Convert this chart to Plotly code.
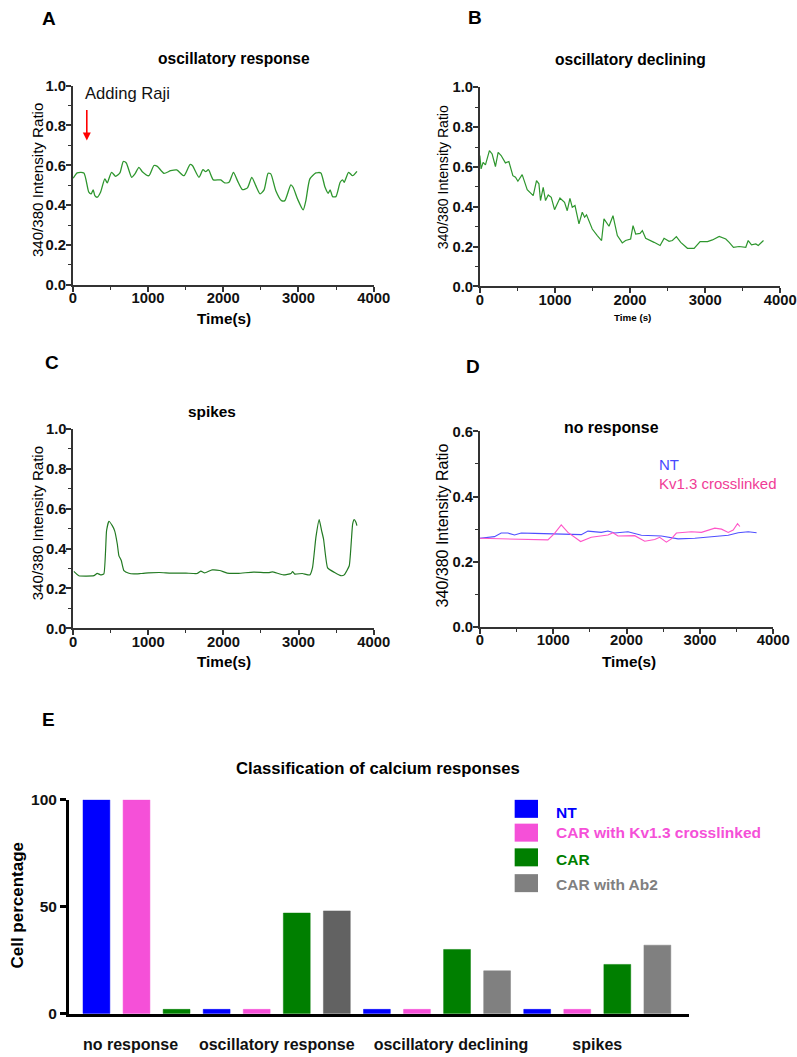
import plotly.graph_objects as go

# The snapshot maps page pixels to picture pixels as: pic = S * page + OFF.
# Positions below are given in picture pixels and converted back to page pixels.
SX, OX = 0.974, 3.6
SY, OY = 0.984, 8.4
W, H = 815, 1066

# ---------------- data ----------------
A_time = [5, 59, 147, 213, 245, 271, 293, 325, 369, 426, 458, 515, 569, 626, 671, 711, 782, 826, 879, 924,
          1012, 1079, 1124, 1212, 1301, 1381, 1478, 1558, 1590, 1678, 1731, 1767, 1803, 1869, 1967, 2020,
          2077, 2136, 2189, 2256, 2322, 2380, 2433, 2490, 2543, 2597, 2632, 2699, 2775, 2819, 2899, 2929,
          2988, 3063, 3099, 3152, 3232, 3298, 3351, 3396, 3422, 3454, 3498, 3555, 3587, 3608, 3667, 3720, 3778]
A_ratio = [0.535, 0.562, 0.562, 0.465, 0.457, 0.477, 0.448, 0.44, 0.465, 0.532, 0.512, 0.565, 0.545, 0.562,
           0.619, 0.612, 0.54, 0.557, 0.59, 0.568, 0.548, 0.599, 0.595, 0.56, 0.573, 0.577, 0.548, 0.604,
           0.599, 0.54, 0.578, 0.568, 0.578, 0.527, 0.527, 0.512, 0.515, 0.565, 0.523, 0.478, 0.487, 0.54,
           0.498, 0.457, 0.477, 0.56, 0.557, 0.473, 0.423, 0.423, 0.502, 0.49, 0.431, 0.376, 0.423, 0.532,
           0.562, 0.562, 0.493, 0.46, 0.477, 0.443, 0.443, 0.515, 0.527, 0.515, 0.565, 0.548, 0.57]

B_time = [0, 17, 44, 75, 128, 164, 208, 244, 284, 341, 387, 440, 475, 507, 564, 631, 711, 755, 787, 808,
          844, 875, 911, 951, 995, 1067, 1128, 1164, 1200, 1231, 1267, 1320, 1364, 1395, 1421, 1497, 1564,
          1621, 1653, 1720, 1773, 1831, 1897, 1941, 2008, 2040, 2075, 2133, 2164, 2208, 2320, 2400, 2453,
          2520, 2564, 2617, 2675, 2764, 2853, 2933, 3031, 3097, 3187, 3275, 3320, 3377, 3453, 3541, 3573,
          3617, 3675, 3707, 3777]
B_ratio = [0.657, 0.59, 0.623, 0.61, 0.682, 0.665, 0.602, 0.673, 0.657, 0.62, 0.627, 0.556, 0.548, 0.528,
           0.561, 0.486, 0.456, 0.531, 0.515, 0.431, 0.497, 0.431, 0.459, 0.447, 0.385, 0.444, 0.422, 0.38,
           0.442, 0.397, 0.406, 0.314, 0.372, 0.347, 0.359, 0.288, 0.255, 0.23, 0.339, 0.302, 0.355, 0.255,
           0.218, 0.23, 0.238, 0.305, 0.263, 0.266, 0.28, 0.241, 0.221, 0.205, 0.241, 0.226, 0.23, 0.25,
           0.221, 0.191, 0.191, 0.225, 0.225, 0.233, 0.251, 0.238, 0.221, 0.196, 0.2, 0.196, 0.23, 0.208,
           0.213, 0.205, 0.23]

C_time = [8, 75, 275, 320, 364, 408, 444, 475, 520, 551, 587, 608, 640, 675, 741, 808, 900, 1000, 1150,
          1300, 1500, 1650, 1700, 1750, 1850, 1950, 2050, 2200, 2400, 2600, 2650, 2800, 2900, 2920, 2950,
          3050, 3150, 3187, 3231, 3275, 3307, 3333, 3387, 3475, 3564, 3608, 3675, 3720, 3741, 3764, 3777]
C_ratio = [0.286, 0.264, 0.264, 0.276, 0.268, 0.273, 0.49, 0.537, 0.515, 0.49, 0.423, 0.365, 0.34, 0.289,
           0.276, 0.273, 0.275, 0.278, 0.28, 0.277, 0.277, 0.275, 0.287, 0.278, 0.293, 0.29, 0.277, 0.276,
           0.282, 0.279, 0.283, 0.268, 0.275, 0.285, 0.272, 0.275, 0.268, 0.306, 0.456, 0.545, 0.49, 0.448,
           0.303, 0.281, 0.264, 0.268, 0.314, 0.523, 0.545, 0.532, 0.515]

D_nt_time = [0, 200, 291, 382, 473, 564, 746, 974, 1201, 1383, 1474, 1656, 1747, 1838, 2020, 2202, 2475,
             2703, 2931, 3158, 3386, 3522, 3659, 3773]
D_nt_ratio = [0.272, 0.277, 0.288, 0.288, 0.282, 0.288, 0.287, 0.285, 0.285, 0.283, 0.294, 0.29, 0.294,
              0.288, 0.292, 0.281, 0.279, 0.27, 0.272, 0.277, 0.281, 0.289, 0.292, 0.289]
D_kv_time = [0, 291, 519, 746, 928, 1019, 1110, 1201, 1374, 1519, 1656, 1747, 1815, 1883, 2111, 2248, 2384,
             2452, 2543, 2611, 2680, 2885, 3021, 3203, 3295, 3386, 3454, 3513, 3545]
D_kv_ratio = [0.272, 0.27, 0.268, 0.268, 0.267, 0.287, 0.313, 0.29, 0.262, 0.275, 0.28, 0.282, 0.289, 0.279,
              0.28, 0.263, 0.268, 0.275, 0.26, 0.27, 0.288, 0.292, 0.29, 0.303, 0.3, 0.29, 0.297, 0.317, 0.308]

E_groups = ["no response", "oscillatory response", "oscillatory declining", "spikes"]
E_series = ["NT", "CAR with Kv1.3 crosslinked", "CAR", "CAR with Ab2"]
E_NT = [100, 2, 2, 2]
E_KV = [100, 2, 2, 2]
E_CAR = [2, 47, 30, 23]
E_AB2 = [None, 48, 20, 32]
E_colors = ["#0000FF", "#F550D8", "#007F00", "#808080"]
E_ab2_dark = "#626262"

# layout tweak: label offsets (in bar slots) relative to group centres
E_label_shift = [-0.15, 0.0, 0.35, 0.0]

FONT = "Liberation Sans, Arial, sans-serif"


def px(x):
    """picture pixel x -> paper fraction"""
    return ((x - OX) / SX) / W


def py(y):
    """picture pixel y -> paper fraction"""
    return 1 - ((y - OY) / SY) / H


fig = go.Figure()

# ---------------- line panels ----------------
green = "#2E962E"
fig.add_trace(go.Scatter(x=A_time, y=A_ratio, mode="lines", xaxis="x", yaxis="y",
                         line=dict(color=green, width=1.3, shape="spline", smoothing=0.6)))
fig.add_trace(go.Scatter(x=B_time, y=B_ratio, mode="lines", xaxis="x2", yaxis="y2",
                         line=dict(color=green, width=1.2)))
fig.add_trace(go.Scatter(x=C_time, y=C_ratio, mode="lines", xaxis="x3", yaxis="y3",
                         line=dict(color="#237A23", width=1.2, shape="spline", smoothing=0.4)))
fig.add_trace(go.Scatter(x=D_nt_time, y=D_nt_ratio, mode="lines", xaxis="x4", yaxis="y4",
                         line=dict(color="#4F4FFF", width=1.1)))
fig.add_trace(go.Scatter(x=D_kv_time, y=D_kv_ratio, mode="lines", xaxis="x4", yaxis="y4",
                         line=dict(color="#FF55C8", width=1.1)))

# ---------------- bar panel ----------------
pos, vals, cols, group_pos = [], [], [], []
k = 0
for gi, g in enumerate(E_groups):
    members = []
    for si, series in enumerate([E_NT, E_KV, E_CAR, E_AB2]):
        v = series[gi]
        if v is None:
            continue
        c = E_colors[si]
        if si == 3 and gi == 1:
            c = E_ab2_dark
        pos.append(k)
        vals.append(v)
        cols.append(c)
        members.append(k)
        k += 1
    group_pos.append(sum(members) / len(members))

fig.add_trace(go.Bar(x=pos, y=vals, xaxis="x5", yaxis="y5", width=0.67,
                     marker=dict(color=cols, line=dict(color=cols, width=0.5))))

axcol = "#333333"
tickfont = dict(family=FONT, size=14.8, color="#111111", weight="bold")


def xax(domain, anchor, lw=1.5):
    return dict(domain=domain, anchor=anchor, range=[0, 4000], showline=True, linecolor=axcol, linewidth=lw,
                ticks="outside", ticklen=5, tickwidth=1.5, tickcolor=axcol, tickvals=[0, 1000, 2000, 3000, 4000],
                minor=dict(ticks="outside", ticklen=3, tickwidth=1, tickcolor=axcol, dtick=500, tick0=0),
                showgrid=False, zeroline=False, tickfont=tickfont, fixedrange=True, ticklabelstandoff=-6)


def yax(domain, anchor, top, dt, mdt):
    return dict(domain=domain, anchor=anchor, range=[0, top], showline=True, linecolor=axcol, linewidth=1.5,
                ticks="outside", ticklen=5, tickwidth=1.5, tickcolor=axcol, dtick=dt, tick0=0, tickformat=".1f",
                minor=dict(ticks="outside", ticklen=3, tickwidth=1, tickcolor=axcol, dtick=mdt, tick0=0),
                showgrid=False, zeroline=False, tickfont=tickfont, fixedrange=True, ticklabelstandoff=-3)


layout = dict(
    width=W, height=H, margin=dict(l=0, r=0, t=0, b=0),
    paper_bgcolor="white", plot_bgcolor="white", showlegend=False,
    font=dict(family=FONT, color="black"),
    xaxis=xax([px(72.3), px(372.7)], "y"),
    yaxis=yax([py(284.3), py(85)], "x", 1.0, 0.2, 0.1),
    xaxis2=xax([px(478.7), px(778.7)], "y2"),
    yaxis2=yax([py(285.7), py(86.7)], "x2", 1.0, 0.2, 0.1),
    xaxis3=xax([px(72.7), px(372.7)], "y3", lw=2),
    yaxis3=yax([py(627.7), py(428.3)], "x3", 1.0, 0.2, 0.1),
    xaxis4=xax([px(478.7), px(771.7)], "y4"),
    yaxis4=yax([py(626.3), py(430.7)], "x4", 0.6, 0.2, 0.1),
    xaxis5=dict(domain=[px(68.3), px(688)], anchor="y5", range=[-0.69, 14.8], showline=True, linecolor="black",
                linewidth=2.5, ticks="", tickvals=[g + s for g, s in zip(group_pos, E_label_shift)],
                ticktext=E_groups, showgrid=False, zeroline=False,
                tickfont=dict(family=FONT, size=16, color="#111111", weight="bold"), ticklabelstandoff=14,
                fixedrange=True),
    yaxis5=dict(domain=[py(1013), py(799)], anchor="x5", range=[0, 100], showline=True, linecolor="black",
                linewidth=2.5, ticks="outside", ticklen=6, tickwidth=2.5, tickcolor="black",
                tickvals=[0, 50, 100], showgrid=False, zeroline=False,
                tickfont=dict(family=FONT, size=15.5, color="#111111", weight="bold"), ticklabelstandoff=0,
                fixedrange=True),
)
fig.update_layout(**layout)

ann = []


def text(x, y, s, size, bold=False, color="black", angle=0, xanchor="center"):
    ann.append(dict(x=px(x), y=py(y), xref="paper", yref="paper", text=s, showarrow=False,
                    xanchor=xanchor, yanchor="middle", textangle=angle,
                    font=dict(family=FONT, size=size, color=color, weight="bold" if bold else "normal")))


# panel letters
for lx, ly, s in [(49, 18, "A"), (474, 17, "B"), (51.5, 362, "C"), (471.5, 366, "D"), (48, 719, "E")]:
    text(lx, ly, s, 19, bold=True)

# panel titles
text(233, 58, "oscillatory response", 15.6, bold=True)
text(629, 59, "oscillatory declining", 15.6, bold=True)
text(211.7, 411, "spikes", 15.4, bold=True)
text(610, 427, "no response", 15.9, bold=True)
text(377.5, 768, "Classification of calcium responses", 16.7, bold=True)

# y-axis titles
text(37, 179, "340/380 Intensity Ratio", 15.1, angle=-90)
text(441.7, 177, "340/380 Intensity Ratio", 14.1, angle=-90)
text(36.7, 522.5, "340/380 Intensity Ratio", 15.1, angle=-90)
text(441.7, 525, "340/380 Intensity Ratio", 16, angle=-90)
text(17.5, 904, "Cell percentage", 17, bold=True, angle=-90)

# x-axis titles
text(223, 318, "Time(s)", 15.3, bold=True)
text(631, 317, "Time (s)", 9.8, bold=True)
text(223, 661, "Time(s)", 15.3, bold=True)
text(628, 661, "Time(s)", 15.3, bold=True)

# Panel A annotation
ann.append(dict(x=138, y=0.961, xref="x", yref="y", text="Adding Raji", showarrow=False, xanchor="left",
                yanchor="middle", font=dict(family=FONT, size=16.6, color="#111111")))
ann.append(dict(x=186, y=0.725, xref="x", yref="y", ax=186, ay=0.885, axref="x", ayref="y", text="",
                showarrow=True, arrowhead=2, arrowsize=1, arrowwidth=1.6, arrowcolor="#FF0000"))

# Panel D legend text
text(655.7, 463.5, "NT", 15, color="#4848FF", xanchor="left")
text(655.7, 482.5, "Kv1.3 crosslinked", 15, color="#F03C96", xanchor="left")

# Panel E legend
leg_rows = [808.2, 832, 856.7, 882.5]
leg_text_y = [811.5, 831.7, 859, 884]
shapes = []
for i, name in enumerate(E_series):
    yc = leg_rows[i]
    shapes.append(dict(type="rect", xref="paper", yref="paper", x0=px(513.5), x1=px(536.8),
                       y0=py(yc + 9), y1=py(yc - 9), fillcolor=E_colors[i], line=dict(width=0)))
    text(552.5, leg_text_y[i], name, 15.5, bold=True, color=E_colors[i], xanchor="left")

fig.update_layout(annotations=ann, shapes=shapes)
fig.write_html("out.html", config={"displayModeBar": False},
               post_script="document.body.style.margin='0';")
